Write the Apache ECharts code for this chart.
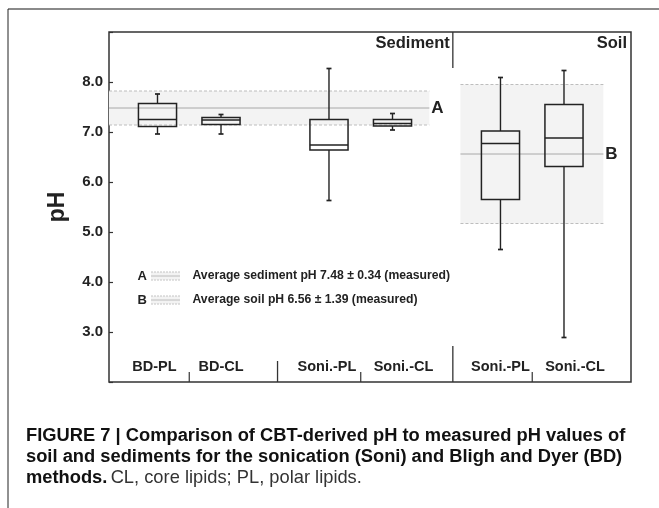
<!DOCTYPE html>
<html>
<head>
<meta charset="utf-8">
<script src="https://cdn.jsdelivr.net/npm/echarts@6/dist/echarts.min.js"></script>
<style>
  html, body { margin: 0; padding: 0; background: #fff; }
  #chart { width: 659px; height: 508px; }
</style>
</head>
<body>
<div id="chart"></div>
<script>
// ---- data ----------------------------------------------------------------
// extraction method / lipid fraction, grouped as sediment BD, sediment Soni, soil Soni
const categories = ['BD-PL', 'BD-CL', 'Soni.-PL', 'Soni.-CL', 'Soni.-PL', 'Soni.-CL'];
const groupOf = [0, 0, 1, 1, 2, 2];
// CBT-derived pH box statistics
const whiskerLow  = [6.96, 6.96, 5.63, 7.04, 4.65, 2.89];
const q1          = [7.11, 7.15, 6.64, 7.12, 5.65, 6.31];
const median      = [7.25, 7.24, 6.74, 7.17, 6.77, 6.88];
const q3          = [7.57, 7.29, 7.25, 7.25, 7.02, 7.55];
const whiskerHigh = [7.76, 7.35, 8.27, 7.37, 8.09, 8.23];
// measured pH (mean ± sd)
const refLetters = ['A', 'B'];
const refMean = [7.48, 6.56];
const refSd = [0.34, 1.39];
const refText = ['Average sediment pH 7.48 \u00b1 0.34 (measured)', 'Average soil pH 6.56 \u00b1 1.39 (measured)'];
const sectionNames = ['Sediment', 'Soil'];
const yTickValues = [3, 4, 5, 6, 7, 8];
const captionLines = [
  'FIGURE 7 | Comparison of CBT-derived pH to measured pH values of',
  'soil and sediments for the sonication (Soni) and Bligh and Dyer (BD)'
];
const captionBold3 = 'methods.';
const captionPlain3 = 'CL, core lipids; PL, polar lipids.';

// ---- layout ----------------------------------------------------------------
const X_MIN = 0.2365, X_MAX = 8.455;
const pos = categories.map((c, i) => i + 1 + groupOf[i] * 0.7);
const BOX_W = 0.6;
const INK = '#222';
const FAMILY = '"Liberation Sans", Arial, sans-serif';
const labelNudge = [-3, 0, -2, 11, 0, 11];
const groupBreaks = [{ x: 2.89, len: 21 }, { x: 5.65, len: 36 }];
const bandSpan = [[X_MIN, pos[3] + 0.58], [pos[4] - 0.63, pos[5] + 0.62]];

function textWidth(text, weight, family, size) {
  const ctx = document.createElement('canvas').getContext('2d');
  ctx.font = weight + ' ' + size + 'px ' + family;
  return ctx.measureText(text).width;
}
// caption size chosen so the two bold lines span the text column (~598px)
const capSize = Math.min(18.5, 100 * 598 /
  ((textWidth(captionLines[0], 'bold', FAMILY, 100) + textWidth(captionLines[1], 'bold', FAMILY, 100)) / 2));

const chart = echarts.init(document.getElementById('chart'), null, { renderer: 'canvas' });

const boxData = categories.map((c, i) => [pos[i], whiskerLow[i], q1[i], median[i], q3[i], whiskerHigh[i], i]);
const bandData = refMean.map((m, i) => [bandSpan[i][0], bandSpan[i][1], m, refSd[i], i]);

function line(x1, y1, x2, y2, style) {
  return { type: 'line', shape: { x1, y1, x2, y2 }, style: Object.assign({ stroke: INK, lineWidth: 1.4 }, style || {}) };
}
function label(text, x, y, font, align, vAlign, fill) {
  return { type: 'text', style: { text, x, y, font, fill: fill || INK, textAlign: align, textVerticalAlign: vAlign, align: align, verticalAlign: vAlign } };
}

const option = {
  animation: false,
  backgroundColor: '#fff',
  grid: { left: 109, top: 32, right: 28, bottom: 126, show: true, borderColor: '#333', borderWidth: 1.5, backgroundColor: 'transparent' },
  xAxis: {
    type: 'value', min: X_MIN, max: X_MAX,
    axisLine: { show: false }, axisTick: { show: false }, axisLabel: { show: false }, splitLine: { show: false }
  },
  yAxis: {
    type: 'value', min: 2, max: 9, interval: 1,
    axisLine: { show: false },
    axisTick: { show: true, inside: true, length: 4, lineStyle: { color: '#333', width: 1.2 } },
    splitLine: { show: false },
    axisLabel: {
      margin: 6, fontSize: 15, fontWeight: 'bold', color: INK, fontFamily: FAMILY,
      formatter: v => yTickValues.indexOf(v) >= 0 ? v.toFixed(1) : ''
    }
  },
  series: [
    {
      // measured-pH bands (mean line, ± sd dashed edges)
      type: 'custom', z: 1, data: bandData, clip: false,
      renderItem: function (params, api) {
        const x0 = api.value(0), x1 = api.value(1), m = api.value(2), sd = api.value(3), k = api.value(4);
        const pTop = api.coord([x0, m + sd]), pBot = api.coord([x1, m - sd]);
        const pMid = api.coord([x1, m]);
        const left = pTop[0], right = pBot[0];
        return {
          type: 'group', children: [
            { type: 'rect', shape: { x: left, y: pTop[1], width: right - left, height: pBot[1] - pTop[1] }, style: { fill: '#f3f3f3' } },
            line(left, pTop[1], right, pTop[1], { stroke: '#bdbdbd', lineWidth: 1, lineDash: [3, 2] }),
            line(left, pBot[1], right, pBot[1], { stroke: '#bdbdbd', lineWidth: 1, lineDash: [3, 2] }),
            line(left, pMid[1], right, pMid[1], { stroke: '#a8a8a8', lineWidth: 1 }),
            label(refLetters[k], right + 2, pMid[1], 'bold 17px ' + FAMILY, 'left', 'middle')
          ]
        };
      }
    },
    {
      // box-and-whisker marks
      type: 'custom', z: 3, data: boxData,
      renderItem: function (params, api) {
        const x = api.value(0);
        const pLo = api.coord([x, api.value(1)]);
        const pQ1 = api.coord([x, api.value(2)]);
        const pMed = api.coord([x, api.value(3)]);
        const pQ3 = api.coord([x, api.value(4)]);
        const pHi = api.coord([x, api.value(5)]);
        const hw = api.size([BOX_W, 0])[0] / 2;
        const cx = pMed[0];
        const cap = 2.5;
        return {
          type: 'group', children: [
            line(cx, pHi[1], cx, pQ3[1]),
            line(cx, pQ1[1], cx, pLo[1]),
            line(cx - cap, pHi[1], cx + cap, pHi[1], { lineWidth: 1.7 }),
            line(cx - cap, pLo[1], cx + cap, pLo[1], { lineWidth: 1.7 }),
            { type: 'rect', shape: { x: cx - hw, y: pQ3[1], width: hw * 2, height: pQ1[1] - pQ3[1] }, style: { fill: 'none', stroke: INK, lineWidth: 1.5 } },
            line(cx - hw, pMed[1], cx + hw, pMed[1], { lineWidth: 1.4 })
          ]
        };
      }
    },
    {
      // category labels, section dividers and section names
      type: 'custom', z: 4, data: [[0, 0]], clip: false,
      renderItem: function (params, api) {
        const children = [];
        const yBase = api.coord([X_MIN, 2])[1];
        const yTop = api.coord([X_MIN, 9])[1];
        const font = 'bold 14.5px ' + FAMILY;
        categories.forEach(function (c, i) {
          const p = api.coord([pos[i], 2]);
          children.push(label(c, p[0] + labelNudge[i], yBase - 15, font, 'center', 'middle'));
        });
        // short ticks between the two fractions of each group
        [0, 2, 4].forEach(function (i) {
          const xm = api.coord([(pos[i] + pos[i + 1]) / 2, 2])[0];
          children.push(line(xm, yBase, xm, yBase - 10, { stroke: '#333', lineWidth: 1.2 }));
        });
        // longer dividers between groups
        groupBreaks.forEach(function (b) {
          const xb = api.coord([b.x, 2])[0];
          children.push(line(xb, yBase, xb, yBase - b.len, { stroke: '#333', lineWidth: 1.3 }));
        });
        // sediment | soil divider at top and section names
        const xs = api.coord([groupBreaks[1].x, 9])[0];
        const xr = api.coord([X_MAX, 9])[0];
        children.push(line(xs, yTop, xs, yTop + 36, { stroke: '#333', lineWidth: 1.3 }));
        const secFont = 'bold 16.5px ' + FAMILY;
        children.push(label(sectionNames[0], xs - 3, yTop + 11, secFont, 'right', 'middle'));
        children.push(label(sectionNames[1], xr - 4, yTop + 11, secFont, 'right', 'middle'));
        return { type: 'group', children: children };
      }
    }
  ],
  graphic: [
    // figure frame
    { type: 'line', shape: { x1: 8, y1: 9, x2: 659, y2: 9 }, style: { stroke: '#8a8a8a', lineWidth: 2 } },
    { type: 'line', shape: { x1: 8, y1: 9, x2: 8, y2: 508 }, style: { stroke: '#222', lineWidth: 1 } },
    // y-axis title
    { type: 'text', x: 58, y: 207, rotation: Math.PI / 2,
      style: { text: 'pH', x: 0, y: 0, fill: INK, font: 'bold 23px ' + FAMILY, textAlign: 'center', textVerticalAlign: 'middle' } }
  ]
};

// legend for the measured-pH bands
refLetters.forEach(function (L, i) {
  const y = 276 + i * 24;
  option.graphic.push(
    { type: 'text', style: { text: L, x: 137.5, y: y, fill: INK, font: 'bold 13px ' + FAMILY, textAlign: 'left', textVerticalAlign: 'middle' } },
    { type: 'rect', shape: { x: 151, y: y - 4, width: 29, height: 8 }, style: { fill: '#f3f3f3' } },
    { type: 'line', shape: { x1: 151, y1: y - 4, x2: 180, y2: y - 4 }, style: { stroke: '#c4c4c4', lineWidth: 1, lineDash: [2, 1] } },
    { type: 'line', shape: { x1: 151, y1: y, x2: 180, y2: y }, style: { stroke: '#bcbcbc', lineWidth: 1 } },
    { type: 'line', shape: { x1: 151, y1: y + 4, x2: 180, y2: y + 4 }, style: { stroke: '#c4c4c4', lineWidth: 1, lineDash: [2, 1] } },
    { type: 'text', style: { text: refText[i], x: 192.5, y: y, fill: INK, font: 'bold 12.2px ' + FAMILY, textAlign: 'left', textVerticalAlign: 'middle' } }
  );
});

// caption
const capFont = 'bold ' + capSize.toFixed(2) + 'px ' + FAMILY;
captionLines.forEach(function (t, i) {
  option.graphic.push({ type: 'text', style: { text: t, x: 26, y: 445 + i * 21, fill: '#111', font: capFont, textAlign: 'left', textVerticalAlign: 'bottom' } });
});
option.graphic.push({
  type: 'text',
  style: {
    text: '{b|' + captionBold3 + '} {r|' + captionPlain3 + '}', x: 26, y: 487, textAlign: 'left', textVerticalAlign: 'bottom',
    rich: {
      b: { fontFamily: FAMILY, fontWeight: 'bold', fontSize: capSize, fill: '#111', color: '#111' },
      r: { fontFamily: FAMILY, fontWeight: 'normal', fontSize: capSize, fill: '#333', color: '#333' }
    }
  }
});

chart.setOption(option);
</script>
</body>
</html>
